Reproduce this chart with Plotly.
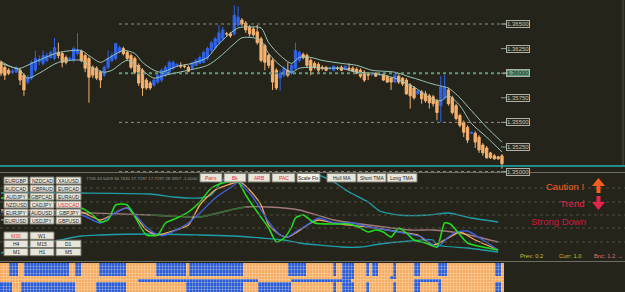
import plotly.graph_objects as go

W, H = 625, 292
def X(px): return px / W
def Y(py): return 1 - py / H

# ---------------- price candles (132 bars) ----------------
OPEN = [1.3611,1.3606,1.3603,1.3601,1.3601,1.3603,1.3598,1.3591,1.3595,1.3603,
        1.3612,1.3610,1.3613,1.3616,1.3615,1.3621,1.3620,1.3616,1.3614,1.3613,
        1.3620,1.3622,1.3618,1.3615,1.3606,1.3605,1.3601,1.3598,1.3606,1.3613,
        1.3615,1.3622,1.3625,1.3621,1.3618,1.3615,1.3608,1.3603,1.3593,1.3590,
        1.3588,1.3591,1.3593,1.3598,1.3601,1.3605,1.3608,1.3608,1.3607,1.3606,
        1.3605,1.3608,1.3610,1.3611,1.3615,1.3623,1.3626,1.3631,1.3635,1.3640,
        1.3640,1.3640,1.3649,1.3654,1.3651,1.3647,1.3645,1.3642,1.3635,1.3628,
        1.3618,1.3613,1.3603,1.3595,1.3598,1.3603,1.3600,1.3605,1.3613,1.3619,
        1.3618,1.3613,1.3610,1.3609,1.3606,1.3606,1.3605,1.3603,1.3605,1.3606,
        1.3604,1.3605,1.3605,1.3604,1.3603,1.3601,1.3599,1.3599,1.3600,1.3599,
        1.3599,1.3597,1.3595,1.3591,1.3597,1.3595,1.3593,1.3588,1.3585,1.3579,
        1.3581,1.3579,1.3577,1.3576,1.3572,1.3567,1.3575,1.3583,1.3575,1.3567,
        1.3557,1.3550,1.3545,1.3539,1.3539,1.3535,1.3527,1.3524,1.3519,1.3516,
        1.3515,1.3516]
CLOSE = [1.3600,1.3598,1.3600,1.3602,1.3605,1.3593,1.3583,1.3596,1.3611,1.3615,
         1.3614,1.3618,1.3618,1.3621,1.3626,1.3618,1.3611,1.3611,1.3615,1.3625,
         1.3624,1.3613,1.3605,1.3596,1.3598,1.3595,1.3593,1.3606,1.3615,1.3618,
         1.3630,1.3626,1.3620,1.3615,1.3606,1.3601,1.3590,1.3585,1.3585,1.3585,
         1.3593,1.3598,1.3603,1.3606,1.3611,1.3611,1.3609,1.3607,1.3607,1.3602,
         1.3610,1.3613,1.3616,1.3621,1.3625,1.3631,1.3635,1.3641,1.3644,1.3640,
         1.3638,1.3659,1.3657,1.3650,1.3644,1.3640,1.3639,1.3631,1.3613,1.3611,
         1.3608,1.3591,1.3585,1.3600,1.3605,1.3598,1.3608,1.3623,1.3621,1.3616,
         1.3608,1.3603,1.3606,1.3603,1.3605,1.3603,1.3605,1.3607,1.3605,1.3603,
         1.3607,1.3604,1.3602,1.3600,1.3597,1.3593,1.3598,1.3599,1.3597,1.3599,
         1.3593,1.3591,1.3591,1.3598,1.3591,1.3589,1.3579,1.3577,1.3575,1.3582,
         1.3574,1.3572,1.3570,1.3569,1.3560,1.3586,1.3586,1.3569,1.3560,1.3554,
         1.3547,1.3540,1.3532,1.3540,1.3530,1.3522,1.3519,1.3514,1.3514,1.3513,
         1.3513,1.3508]
HIGH = [1.3613,1.3608,1.3605,1.3604,1.3607,1.3605,1.3600,1.3598,1.3613,1.3623,
        1.3618,1.3623,1.3621,1.3623,1.3636,1.3631,1.3622,1.3618,1.3617,1.3627,
        1.3641,1.3624,1.3620,1.3617,1.3608,1.3607,1.3603,1.3608,1.3623,1.3621,
        1.3631,1.3628,1.3627,1.3623,1.3620,1.3617,1.3610,1.3605,1.3595,1.3592,
        1.3595,1.3600,1.3605,1.3608,1.3613,1.3613,1.3610,1.3611,1.3609,1.3608,
        1.3612,1.3615,1.3618,1.3623,1.3627,1.3633,1.3637,1.3649,1.3647,1.3642,
        1.3642,1.3669,1.3668,1.3656,1.3653,1.3649,1.3647,1.3649,1.3637,1.3630,
        1.3620,1.3615,1.3605,1.3603,1.3607,1.3611,1.3610,1.3631,1.3623,1.3621,
        1.3620,1.3615,1.3612,1.3611,1.3608,1.3607,1.3606,1.3608,1.3607,1.3608,
        1.3608,1.3610,1.3607,1.3606,1.3605,1.3603,1.3601,1.3600,1.3601,1.3600,
        1.3600,1.3598,1.3596,1.3600,1.3599,1.3596,1.3595,1.3590,1.3587,1.3583,
        1.3583,1.3582,1.3579,1.3578,1.3574,1.3597,1.3598,1.3585,1.3577,1.3569,
        1.3559,1.3552,1.3547,1.3540,1.3541,1.3537,1.3529,1.3526,1.3520,1.3518,
        1.3516,1.3518]
LOW = [1.3597,1.3593,1.3598,1.3599,1.3600,1.3588,1.3577,1.3589,1.3593,1.3601,
       1.3608,1.3608,1.3611,1.3615,1.3613,1.3615,1.3606,1.3609,1.3612,1.3611,
       1.3618,1.3611,1.3601,1.3570,1.3595,1.3593,1.3585,1.3596,1.3604,1.3611,
       1.3613,1.3620,1.3618,1.3613,1.3604,1.3599,1.3587,1.3577,1.3583,1.3583,
       1.3586,1.3589,1.3591,1.3596,1.3599,1.3603,1.3606,1.3605,1.3605,1.3601,
       1.3604,1.3607,1.3609,1.3610,1.3613,1.3621,1.3624,1.3629,1.3633,1.3638,
       1.3636,1.3638,1.3647,1.3648,1.3641,1.3637,1.3637,1.3629,1.3611,1.3603,
       1.3605,1.3583,1.3583,1.3582,1.3596,1.3596,1.3598,1.3603,1.3611,1.3614,
       1.3606,1.3598,1.3604,1.3600,1.3603,1.3602,1.3603,1.3602,1.3603,1.3602,
       1.3603,1.3602,1.3601,1.3599,1.3595,1.3591,1.3593,1.3597,1.3596,1.3597,
       1.3592,1.3590,1.3583,1.3590,1.3589,1.3587,1.3578,1.3564,1.3573,1.3578,
       1.3569,1.3570,1.3564,1.3566,1.3552,1.3550,1.3573,1.3567,1.3558,1.3552,
       1.3545,1.3535,1.3529,1.3538,1.3524,1.3519,1.3516,1.3513,1.3513,1.3512,
       1.3512,1.3503]
BARS = list(range(len(OPEN)))

# ---------------- envelope moving averages ----------------
MA_UP_X = [0,3,5,8,11,15,21,23,26,28,32,35,37,40,42,46,50,54,57,62,65,68,70,73,76,78,81,84,89,93,97,103,107,108,112,116,117,120,123,127,131]
MA_UP = [1.3612,1.3606,1.3605,1.3610,1.3615,1.3621,1.3623,1.3618,1.3611,1.3615,1.3623,1.3620,1.3611,1.3603,1.3601,1.3607,1.3610,1.3616,1.3630,1.3646,
         1.3647,1.3646,1.3631,1.3618,1.3610,1.3616,1.3616,1.3613,1.3610,1.3608,1.3603,1.3601,1.3596,1.3595,1.3590,1.3586,1.3585,1.3575,1.3562,1.3545,1.3530]
MA_DN_X = [0,3,5,7,10,15,21,24,27,29,33,36,40,43,49,54,57,61,63,66,68,70,73,76,78,81,84,89,93,97,103,104,108,112,115,117,120,123,127,131]
MA_DN = [1.3610,1.3606,1.3603,1.3595,1.3600,1.3611,1.3613,1.3605,1.3601,1.3603,1.3613,1.3606,1.3595,1.3598,1.3603,1.3608,1.3616,1.3630,1.3636,1.3636,
         1.3633,1.3620,1.3608,1.3601,1.3605,1.3606,1.3605,1.3605,1.3601,1.3600,1.3595,1.3593,1.3586,1.3575,1.3572,1.3577,1.3567,1.3549,1.3535,1.3520]

PRICE_LEVELS = [1.3675, 1.3650, 1.3625, 1.3600, 1.3575, 1.3550, 1.3525, 1.3500]
DOTTED_LEVELS = [1.3650, 1.3600, 1.3550, 1.3500]

# ---------------- oscillator sub-window ----------------
TEAL_UP_X = [0,21,39,45,52,55,58,61,78,83,87,91,96,99,104,112,117,123,130]
TEAL_UP = [69,69,68,65,64,67,82,88,89,87,80,70,60,51,47,47,49,44,40]
TEAL_DN_X = [0,21,26,39,52,61,68,74,78,89,94,99,107,113,114,122,130]
TEAL_DN = [9,26,27,28,27,26,24,22,19,15,15,18,21,22,17,14,10]
MID_X = [0,21,31,39,44,52,60,64,70,78,87,96,107,113,120,130]
MID = [42,49,48,47,46,45,52,55,55,52,42,37,32,32,29,20]
GREEN_X = [0,10,21,24,26,28,30,33,38,41,43,46,49,52,55,58,62,64,67,70,72,74,76,77,79,82,87,91,94,96,98,100,102,104,106,108,111,114,116,117.5,122,126,130]
GREEN = [64,62,54,47,40,42,57,57,27,27,39,44,50,60,74,79,80,67,50,34,20,24,35,44,47,39,38,38,34,30,32,30,25,34,29,22,19,15,39,38,19,15,12]
BLUE_X = [0,21,26,29,33,38,41,43,49,52,56,61,62,66,70,73,75,77,80,83,87,92,96,101,104,110,114,117,119,122,126,130]
BLUE = [50,47,39,47,54,35,27,27,39,49,64,77,80,64,40,27,25,30,37,44,39,39,35,32,30,25,15,25,30,31,22,12]
ORANGE_X = [0,21,26,33,38,41,44,49,52,56,62,63,65,68,70,73,75,77,81,83,87,91,96,101,106,109,113,117,120,124,130]
ORANGE = [52,50,42,54,32,27,30,37,57,72,80,79,72,57,37,27,25,29,39,42,39,37,35,32,29,27,17,24,30,22,12]
STATS_TEXT = "7705 43.5409 36.7430 17.7197 17.7197 28.3557 -1.0000"

PAIRS = [["EURGBP", "NZDCAD", "XAUUSD"],
         ["AUDCAD", "GBPAUD", "EURCAD"],
         ["AUDJPY", "GBPCAD", "EURAUD"],
         ["NZDUSD", "CADJPY", "USDCAD"],
         ["EURJPY", "AUDUSD", "GBPJPY"],
         ["EURUSD", "USDJPY", "GBPUSD"]]
ACTIVE_PAIR = "USDCAD"
TIMEFRAMES = [["M30", "W1", ""], ["H4", "M15", "D1"], ["M1", "H1", "M5"]]
ACTIVE_TF = "M30"
TOOL_BUTTONS = ["Pairs", "Bk", "ARB", "PAC", "Scale Fix", "Hull MA", "Short TMA", "Long TMA"]
RED_TOOLS = ["Pairs", "Bk", "ARB", "PAC"]

# ---------------- strength heat-strip (O = orange, B = blue) ----------------
RUN_A = [('O',3),('B',3),('O',2),('B',15),('O',2),('B',2),('O',6),('B',9),('O',10),('B',10),('O',1),('B',18),('O',15),('B',6),('O',9),('B',1),
         ('O',2),('B',4),('O',4),('B',1),('O',1),('B',2),('O',5),('B',1),('O',6),('B',2),('O',6),('B',3),('O',16),('B',2),('O',1)]
RUN_BAND = [('O',114),('B',4),('O',12),('B',2),('O',36)]
RUN_MID = [('O',46),('B',40),('O',11),('B',20),('O',21),('B',9),('O',21)]
RUN_C = [('B',4),('O',3),('B',18),('O',7),('B',10),('O',20),('B',19),('O',5),('B',11),('O',14),('B',1),('O',2),('B',4),('O',4),('B',1),
         ('O',8),('B',1),('O',6),('B',2),('O',6),('B',1),('O',18),('B',2),('O',1)]
STRIP_ROWS = [RUN_A, RUN_A, RUN_A, RUN_A, RUN_BAND, RUN_MID, RUN_C, RUN_C, RUN_C]

BG = '#25241b'
FONT = "Liberation Sans"

fig = go.Figure()

fig.add_trace(go.Candlestick(
    x=BARS, open=OPEN, high=HIGH, low=LOW, close=CLOSE,
    increasing=dict(line=dict(color='#2f63ea', width=1), fillcolor='#2f63ea'),
    decreasing=dict(line=dict(color='#f6b26e', width=1), fillcolor='#f6b26e'),
    whiskerwidth=0, xaxis='x', yaxis='y', hoverinfo='skip'))
for xs, ys in [(MA_UP_X, MA_UP), (MA_DN_X, MA_DN)]:
    fig.add_trace(go.Scatter(x=xs, y=ys, mode='lines', xaxis='x', yaxis='y',
                             line=dict(color='#9cc6b8', width=1, shape='spline', smoothing=0.8), hoverinfo='skip'))

def osc(xs, ys, color, width=1.3):
    fig.add_trace(go.Scatter(x=xs, y=ys, mode='lines', xaxis='x2', yaxis='y2',
                             line=dict(color=color, width=width, shape='spline', smoothing=0.6), hoverinfo='skip'))
osc(TEAL_UP_X, TEAL_UP, '#1f9ea8')
osc(TEAL_DN_X, TEAL_DN, '#1f9ea8')
osc(MID_X, MID, '#a07a7c')
osc(MID_X[3:8], MID[3:8], '#2e6a30')
osc(ORANGE_X, ORANGE, '#f2a65e')
osc(BLUE_X, BLUE, '#3d62e6')
osc(GREEN_X, GREEN, '#22e01e', 1.5)

z = []
for runs in STRIP_ROWS:
    row = []
    for c, n in runs:
        row += [1 if c == 'B' else 0] * n
    z.append(row)
NCOL = len(z[0])
NROW = len(z)
fig.add_trace(go.Heatmap(z=z, xaxis='x3', yaxis='y3', showscale=False,
                         colorscale=[[0, '#f6ad66'], [1, '#2b5ed8']], zmin=0, zmax=1, hoverinfo='skip'))

shapes, ann = [], []

def hline(y, x0=0, x1=W, color='#777', width=1, dash='solid'):
    shapes.append(dict(type='line', xref='paper', yref='paper', x0=X(x0), x1=X(x1), y0=Y(y), y1=Y(y),
                       line=dict(color=color, width=width, dash=dash)))

def rect(x0, y0, x1, y1, fill, line='#7d7b70', lw=1, layer='above'):
    shapes.append(dict(type='rect', xref='paper', yref='paper', x0=X(x0), x1=X(x1), y0=Y(y1), y1=Y(y0),
                       fillcolor=fill, line=dict(color=line, width=lw), layer=layer))

def text(x, y, s, size=6.5, color='#1e1e1e', anchor='center', family=FONT):
    ann.append(dict(x=X(x), y=Y(y), xref='paper', yref='paper', text=s, showarrow=False,
                    xanchor=anchor, yanchor='middle', font=dict(size=size, color=color, family=family)))

# strip cell grid (pixel-aligned thin lines)
CELL_W = 504 / NCOL
for c in range(1, NCOL):
    px = round(c * CELL_W) + 0.5
    shapes.append(dict(type='line', xref='paper', yref='paper', x0=X(px), x1=X(px), y0=0, y1=Y(263),
                       line=dict(color='rgba(255,236,210,0.28)', width=1)))
CELL_H = (292 - 263) / NROW
for r in range(1, NROW):
    py = round(263 + r * CELL_H) + 0.5
    hline(py, 0, 504, color='rgba(255,236,210,0.28)', width=1)

# price grid (dotted)
for lv in DOTTED_LEVELS:
    green = abs(lv - 1.3600) < 1e-9
    shapes.append(dict(type='line', xref='paper', yref='y', x0=X(119), x1=X(507), y0=lv, y1=lv,
                       line=dict(color='#5f9c7e' if green else '#8e8e84', width=2 if green else 1, dash='dot')))
for lv in PRICE_LEVELS:
    green = abs(lv - 1.3600) < 1e-9
    shapes.append(dict(type='line', xref='paper', yref='y', x0=X(501), x1=X(507), y0=lv, y1=lv,
                       line=dict(color='#9a9a90', width=1)))
    ann.append(dict(x=X(517.5), y=lv, xref='paper', yref='y', text=f"{lv:.5f}", showarrow=False,
                    xanchor='center', yanchor='middle', bgcolor='#5f9c7e' if green else '#2a291f',
                    bordercolor='#b0b0a6', borderwidth=1, borderpad=0,
                    font=dict(size=6, color='#202020' if green else '#c4c4ba', family=FONT)))

# separators
shapes.append(dict(type='line', xref='paper', yref='paper', x0=X(623), x1=X(623), y0=Y(166), y1=Y(0),
                   line=dict(color='#4f4e44', width=1)))
hline(166, color='#1fb3b3', width=1.6)
hline(172.5, color='#6e6d63', width=1.2)
hline(261.5, color='#6e6d63', width=1.2)
for yy in [188, 202, 215, 228, 242]:
    hline(yy, color='#4d4c42', width=1, dash='dot')

TOOL_POS = [(200,222),(224,246),(248,270),(272,295),(297,320),(327,356),(357,386),(387,417)]
for name, (a, b) in zip(TOOL_BUTTONS, TOOL_POS):
    rect(a, 173.5, b, 182, '#f4f3ea' if name == "Scale Fix" else '#e8e6da')
    text((a+b)/2, 178, name, 5, '#e0302c' if name in RED_TOOLS else '#1e1e1e')

COLS = [(4,28),(30,54),(56,81)]
for r, row in enumerate(PAIRS):
    y0 = 177 + r*8
    for c, name in enumerate(row):
        a, b = COLS[c]
        rect(a, y0, b, y0+7, '#e8e6da')
        text((a+b)/2, y0+3.6, name, 5, '#e0302c' if name == ACTIVE_PAIR else '#1e1e1e')

for r, row in enumerate(TIMEFRAMES):
    y0 = 232 + r*8.2
    for c, name in enumerate(row):
        if not name:
            continue
        a, b = COLS[c]
        rect(a, y0, b, y0+7.3, '#e8e6da')
        text((a+b)/2, y0+3.7, name, 5, '#e0302c' if name == ACTIVE_TF else '#1e1e1e')

text(84, 178, STATS_TEXT, 4.4, '#9c9b90', 'left')

text(586, 186, "Caution !", 9.5, '#ff5c1c', 'right')
text(586, 203.5, "Trend", 9.5, '#e6244c', 'right')
text(588, 221, "Strong Down", 9.5, '#d2183e', 'right')
shapes.append(dict(type='path', xref='paper', yref='paper', fillcolor='#ff5c1c', line=dict(width=0),
                   path=f"M {X(592)},{Y(186)} L {X(598.5)},{Y(178)} L {X(605)},{Y(186)} L {X(600.5)},{Y(186)} "
                        f"L {X(600.5)},{Y(193)} L {X(596.5)},{Y(193)} L {X(596.5)},{Y(186)} Z"))
shapes.append(dict(type='path', xref='paper', yref='paper', fillcolor='#e6244c', line=dict(width=0),
                   path=f"M {X(596.5)},{Y(196)} L {X(600.5)},{Y(196)} L {X(600.5)},{Y(202)} L {X(605)},{Y(202)} "
                        f"L {X(598.5)},{Y(210)} L {X(592)},{Y(202)} L {X(596.5)},{Y(202)} Z"))
text(518, 255.5, "Prev: 0.2", 5.8, '#d2bc2a', 'left')
text(557, 255.5, "Curr: 1.0", 5.8, '#d2bc2a', 'left')
text(592, 255.5, "Bnc: 1.2 \u2192", 5.8, '#e0706a', 'left')

fig.update_layout(
    width=W, height=H, margin=dict(l=0, r=0, t=0, b=0),
    paper_bgcolor=BG, plot_bgcolor=BG, showlegend=False, boxgap=0.15,
    xaxis=dict(domain=[0, X(505)], range=[-0.26, 131.79], visible=False, rangeslider=dict(visible=False)),
    yaxis=dict(domain=[Y(172), 1], range=[1.349959, 1.367439], visible=False),
    xaxis2=dict(domain=[0, X(505)], range=[-0.26, 131.79], visible=False, anchor='y2'),
    yaxis2=dict(domain=[Y(262), Y(173)], range=[0, 89], visible=False, anchor='x2'),
    xaxis3=dict(domain=[0, X(504)], range=[-0.5, NCOL - 0.5], visible=False, anchor='y3'),
    yaxis3=dict(domain=[0, Y(263)], range=[NROW - 0.5, -0.5], visible=False, anchor='x3'),
    shapes=shapes, annotations=ann,
)
fig.write_html("out.html")
